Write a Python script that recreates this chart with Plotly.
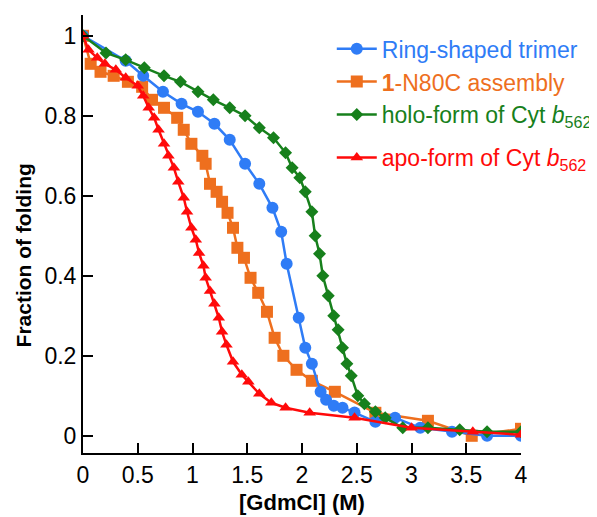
import plotly.graph_objects as go

# GdmCl concentration (M) and fraction of folding for each series
ring_x = [0, 0.39, 0.55, 0.73, 0.90, 1.05, 1.20, 1.34, 1.48, 1.61, 1.73, 1.81, 1.86, 1.97,
          2.03, 2.09, 2.17, 2.22, 2.29, 2.37, 2.48, 2.67, 2.85, 3.08, 3.37, 3.69, 4.0]
ring_y = [1.0, 0.9375, 0.90, 0.86, 0.83, 0.81, 0.78, 0.74, 0.68, 0.63, 0.57, 0.51, 0.43, 0.295,
          0.22, 0.18, 0.11, 0.09, 0.075, 0.07, 0.058, 0.035, 0.045, 0.02, 0.01, 0.0, 0.0]

n80c_x = [0, 0.07, 0.16, 0.28, 0.41, 0.54, 0.63, 0.74, 0.86, 0.92, 0.99, 1.09, 1.12, 1.16,
          1.22, 1.27, 1.32, 1.37, 1.41, 1.47, 1.53, 1.60, 1.68, 1.75, 1.83, 1.95, 2.09, 2.30,
          2.67, 3.15, 3.55, 4.0]
n80c_y = [1.0, 0.93, 0.91, 0.90, 0.885, 0.8725, 0.84, 0.82, 0.795, 0.765, 0.73, 0.70, 0.68, 0.63,
          0.61, 0.585, 0.5575, 0.52, 0.47, 0.445, 0.395, 0.3575, 0.31, 0.245, 0.20, 0.165, 0.1375, 0.11,
          0.0575, 0.0375, 0.0, 0.0175]

holo_x = [0, 0.21, 0.39, 0.56, 0.74, 0.89, 1.05, 1.19, 1.34, 1.48, 1.61, 1.74, 1.85, 1.91,
          1.98, 2.03, 2.09, 2.12, 2.16, 2.19, 2.24, 2.29, 2.33, 2.37, 2.41, 2.45, 2.51, 2.57,
          2.67, 2.76, 2.92, 3.15, 3.44, 3.69, 4.0]
holo_y = [1.0, 0.957, 0.94, 0.92, 0.90, 0.885, 0.86, 0.84, 0.82, 0.80, 0.77, 0.745, 0.7075, 0.67,
          0.645, 0.61, 0.56, 0.50, 0.455, 0.40, 0.35, 0.30, 0.265, 0.22, 0.18, 0.15, 0.10, 0.08,
          0.06, 0.045, 0.02, 0.02, 0.015, 0.01, 0.01]

apo_x = [0, 0.05, 0.13, 0.20, 0.30, 0.39, 0.50, 0.55, 0.60, 0.65, 0.69, 0.74, 0.78, 0.83,
         0.87, 0.92, 0.95, 0.99, 1.03, 1.06, 1.10, 1.12, 1.16, 1.20, 1.24, 1.27, 1.31, 1.37,
         1.45, 1.51, 1.61, 1.72, 1.85, 2.07, 2.48, 3.0, 3.56, 4.0]
apo_y = [1.0, 0.965, 0.945, 0.93, 0.915, 0.895, 0.875, 0.85, 0.82, 0.795, 0.765, 0.73, 0.70, 0.67,
         0.635, 0.595, 0.56, 0.52, 0.49, 0.457, 0.425, 0.395, 0.362, 0.33, 0.295, 0.26, 0.2275, 0.185,
         0.1525, 0.135, 0.105, 0.0825, 0.07, 0.0575, 0.045, 0.02, 0.01, 0.0025]

x_ticks = [0, 0.5, 1, 1.5, 2, 2.5, 3, 3.5, 4]
x_tick_labels = ["0", "0.5", "1", "1.5", "2", "2.5", "3", "3.5", "4"]
y_ticks = [0, 0.2, 0.4, 0.6, 0.8, 1]
y_tick_labels = ["0", "0.2", "0.4", "0.6", "0.8", "1"]

BLUE = "#2F7CF6"
ORANGE = "#EE6F1E"
GREEN = "#17801C"
RED = "#FF0A0A"

FONT = "Arial, Liberation Sans, Helvetica, sans-serif"

fig = go.Figure()

fig.add_trace(go.Scatter(
    x=n80c_x, y=n80c_y, mode="lines+markers", legendrank=2, legendgroup="a",
    name=f"<span style='color:{ORANGE}'><b>1</b>-N80C assembly</span>",
    line=dict(color=ORANGE, width=2.5),
    marker=dict(symbol="square", size=12, color=ORANGE)))

fig.add_trace(go.Scatter(
    x=ring_x, y=ring_y, mode="lines+markers", legendrank=1, legendgroup="a",
    name=f"<span style='color:{BLUE}'>Ring-shaped trimer</span>",
    line=dict(color=BLUE, width=2.5),
    marker=dict(symbol="circle", size=12, color=BLUE)))

fig.add_trace(go.Scatter(
    x=holo_x, y=holo_y, mode="lines+markers", legendrank=3, legendgroup="a",
    name=f"<span style='color:{GREEN}'>holo-form of Cyt <i>b</i><sub>562</sub></span>",
    line=dict(color=GREEN, width=2.5),
    marker=dict(symbol="diamond", size=10, color=GREEN)))

fig.add_trace(go.Scatter(
    x=apo_x, y=apo_y, mode="lines+markers", legendrank=4, legendgroup="b",
    name=f"<span style='color:{RED}'>apo-form of Cyt <i>b</i><sub>562</sub></span>",
    line=dict(color=RED, width=2.5),
    marker=dict(symbol="triangle-up", size=11, color=RED)))

# The page body has an 8px margin, so the figure is drawn 8px in from the window edges.
fig.update_layout(
    width=589, height=509,
    margin=dict(l=74.5, r=75.5, t=7, b=64, autoexpand=False),
    paper_bgcolor="white", plot_bgcolor="white",
    font=dict(family=FONT, size=22, color="black"),
    showlegend=True,
    legend=dict(x=0.568, y=0.972, xanchor="left", yanchor="top",
                bgcolor="rgba(0,0,0,0)", font=dict(size=23),
                itemwidth=40, tracegroupgap=10),
    xaxis=dict(range=[0, 4], tickvals=x_ticks, ticktext=x_tick_labels, automargin=False,
               showgrid=False, zeroline=False, showline=True, linecolor="black", linewidth=2,
               ticks="inside", ticklen=10, tickwidth=2, tickcolor="black",
               tickfont=dict(size=23)),
    yaxis=dict(range=[-0.043, 1.052], tickvals=y_ticks, ticktext=y_tick_labels, automargin=False,
               showgrid=False, zeroline=False, showline=True, linecolor="black", linewidth=2,
               ticks="inside", ticklen=10, tickwidth=2, tickcolor="black",
               tickfont=dict(size=23)),
    annotations=[
        dict(text="<b>[GdmCl] (M)</b>", xref="paper", yref="paper", x=0.5, y=-0.113,
             xanchor="center", yanchor="middle", showarrow=False, font=dict(size=22)),
        dict(text="<b>Fraction of folding</b>", xref="paper", yref="y", x=-0.1355, y=0.45,
             xanchor="center", yanchor="middle", textangle=-90, showarrow=False,
             font=dict(size=21)),
    ],
)

fig.write_html("out.html")
